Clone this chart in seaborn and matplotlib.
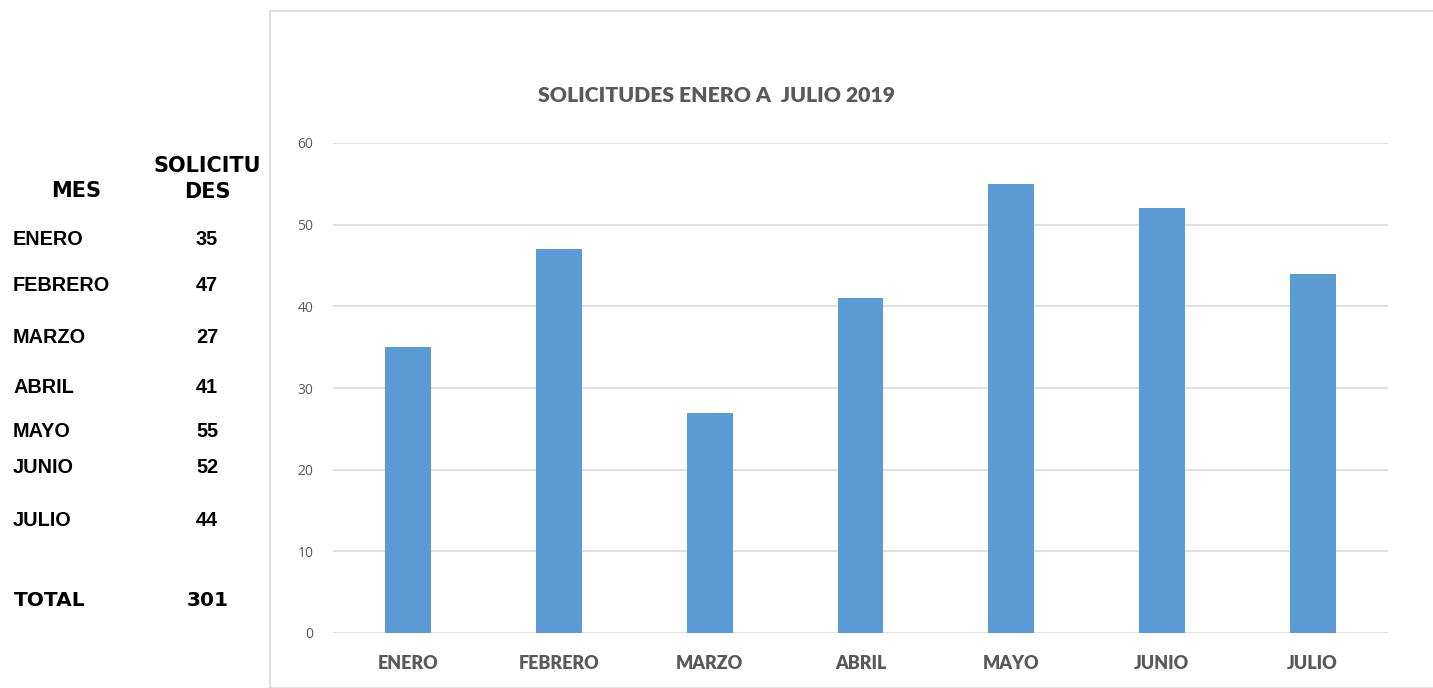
import matplotlib
matplotlib.use("Agg")
import matplotlib.pyplot as plt
import seaborn as sns
import pandas as pd
from matplotlib.patches import Rectangle

months = ["ENERO", "FEBRERO", "MARZO", "ABRIL", "MAYO", "JUNIO", "JULIO"]
values = [35, 47, 27, 41, 55, 52, 44]
yticks = [0, 10, 20, 30, 40, 50, 60]
title = "SOLICITUDES ENERO A  JULIO 2019"

sns.set_theme(style="white")
W, H = 1433, 688
fig = plt.figure(figsize=(W / 100, H / 100), dpi=100)
fig.patch.set_facecolor("white")

# chart box border
fig.patches.append(Rectangle((270 / W, 0), 1.2, 1 - 11 / H, transform=fig.transFigure,
                             fill=False, edgecolor="#D9D9D9", linewidth=1.2))

ax = fig.add_axes([333 / W, 1 - 633 / H, (1388 - 333) / W, (633 - 143) / H])
df = pd.DataFrame({"mes": months, "val": values})
sns.barplot(data=df, x="mes", y="val", color="#5B9BD5", width=0.305, saturation=1,
            edgecolor="none", linewidth=0, ax=ax, zorder=3)
ax.set_ylim(0, 60)
ax.set_xlim(-0.5, len(months) - 0.5)
ax.set_yticks(yticks)
ax.set_xlabel("")
ax.set_ylabel("")
ax.yaxis.grid(True, color="#D9D9D9", linewidth=1.2, zorder=0)
ax.set_axisbelow(True)
for s in ax.spines.values():
    s.set_visible(False)
ax.tick_params(axis="both", length=0)
ax.tick_params(axis="y", pad=14)
ax.tick_params(axis="x", pad=16)
for t in ax.get_yticklabels():
    t.set_fontfamily("Open Sans")
    t.set_fontsize(10)
    t.set_color("#595959")
for t in ax.get_xticklabels():
    t.set_fontfamily("Lato")
    t.set_fontweight("heavy")
    t.set_fontsize(13)
    t.set_color("#595959")

fig.text(717 / W, 1 - 95 / H, title, ha="center", va="center", fontfamily="Lato",
         fontweight="heavy", fontsize=15.3, color="#595959")

# left table
hdr = dict(fontfamily="DejaVu Sans", fontweight="bold", color="black", va="center")
fig.text(76 / W, 1 - 191 / H, "MES", ha="center", fontsize=15, **hdr)
fig.text(207 / W, 1 - 166 / H, "SOLICITU", ha="center", fontsize=15, **hdr)
fig.text(207 / W, 1 - 192 / H, "DES", ha="center", fontsize=15, **hdr)
row_y = [238, 284, 336, 386, 430, 466, 519]
for m, v, y in zip(months, values, row_y):
    fig.text(13 / W, 1 - (y + 1.5) / H, m, ha="left", va="center", fontfamily="Liberation Sans",
             fontweight="bold", fontsize=14.3, color="black")
    fig.text(207 / W, 1 - (y + 1.5) / H, str(v), ha="center", va="center", fontfamily="Liberation Sans",
             fontweight="bold", fontsize=14.3, color="black")
fig.text(14 / W, 1 - 601 / H, "TOTAL", ha="left", fontsize=14.5, **hdr)
fig.text(208 / W, 1 - 601 / H, str(sum(values)), ha="center", fontsize=14.5, **hdr)

fig.savefig("out.png", dpi=100, facecolor="white")
